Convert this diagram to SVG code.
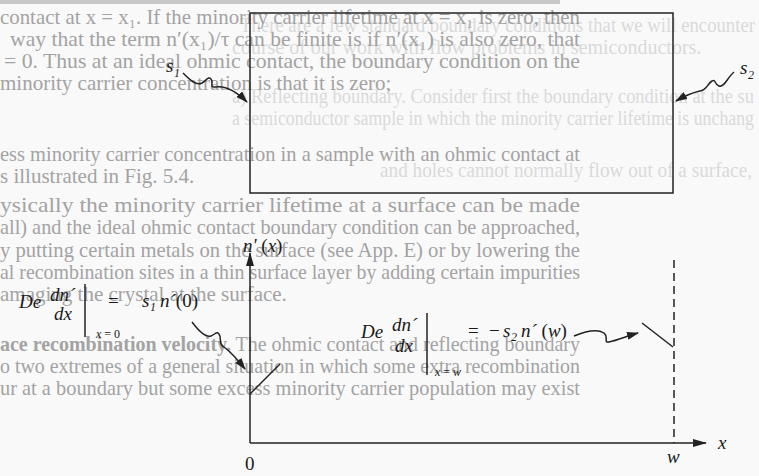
<svg xmlns="http://www.w3.org/2000/svg" width="759" height="476" viewBox="0 0 759 476">
<style>
.pg{font-family:"Liberation Serif",serif;font-size:21px;fill:#a3a3a3}
.bt{font-family:"Liberation Serif",serif;font-size:20px;fill:#dadada}
.m{font-family:"Liberation Serif",serif;font-size:19px;font-style:italic;fill:#1a1a1a}
.u{font-family:"Liberation Serif",serif;font-size:19px;fill:#1a1a1a}
.sub{font-family:"Liberation Serif",serif;font-size:12px;font-style:italic;fill:#1a1a1a}
.ln{fill:none;stroke:#222;stroke-width:1.5}
.wv{fill:none;stroke:#222;stroke-width:1.5}
</style>
<defs>
<marker id="ah" viewBox="0 0 12 8" refX="11" refY="4" markerWidth="12" markerHeight="8" markerUnits="userSpaceOnUse" orient="auto"><path d="M0,0 L12,4 L0,8 z" fill="#222"/></marker>
<marker id="ax" viewBox="0 0 14 8" refX="13" refY="4" markerWidth="14" markerHeight="8" markerUnits="userSpaceOnUse" orient="auto"><path d="M0,0 L14,4 L0,8 z" fill="#222"/></marker>
</defs>
<rect width="759" height="476" fill="#f9f9f9"/>
<rect x="0" y="0" width="560" height="4" fill="#c8c8c8"/>
<g id="page-text-bleed">
<text class="bt" x="240" y="32" textLength="515" lengthAdjust="spacingAndGlyphs">There are a few standard boundary conditions that we will encounter</text>
<text class="bt" x="232" y="54">course of our work with flow problems in semiconductors.</text>
<text class="bt" x="232" y="103" textLength="522" lengthAdjust="spacingAndGlyphs">a) Reflecting boundary. Consider first the boundary condition at the su</text>
<text class="bt" x="232" y="125" textLength="522" lengthAdjust="spacingAndGlyphs">a semiconductor sample in which the minority carrier lifetime is unchang</text>
<text class="bt" x="380" y="177" textLength="372" lengthAdjust="spacingAndGlyphs">and holes cannot normally flow out of a surface,</text>
</g>
<g id="page-text">
<text class="pg" x="0" y="24" textLength="580" lengthAdjust="spacingAndGlyphs">contact at x = x₁. If the minority carrier lifetime at x = x₁ is zero, then</text>
<text class="pg" x="10" y="46" textLength="570" lengthAdjust="spacingAndGlyphs">way that the term n′(x₁)/τ can be finite is if n′(x₁) is also zero, that</text>
<text class="pg" x="4" y="68" textLength="576" lengthAdjust="spacingAndGlyphs">= 0. Thus at an ideal ohmic contact, the boundary condition on the</text>
<text class="pg" x="0" y="90">minority carrier concentration is that it is zero;</text>
<text class="pg" x="0" y="161" textLength="580" lengthAdjust="spacingAndGlyphs">ess minority carrier concentration in a sample with an ohmic contact at</text>
<text class="pg" x="0" y="183">s illustrated in Fig. 5.4.</text>
<text class="pg" x="0" y="212" textLength="580" lengthAdjust="spacingAndGlyphs">ysically the minority carrier lifetime at a surface can be made</text>
<text class="pg" x="0" y="234" textLength="580" lengthAdjust="spacingAndGlyphs">all) and the ideal ohmic contact boundary condition can be approached,</text>
<text class="pg" x="0" y="257" textLength="580" lengthAdjust="spacingAndGlyphs">y putting certain metals on the surface (see App. E) or by lowering the</text>
<text class="pg" x="0" y="279" textLength="580" lengthAdjust="spacingAndGlyphs">al recombination sites in a thin surface layer by adding certain impurities</text>
<text class="pg" x="0" y="301">amaging the crystal at the surface.</text>
<text class="pg" x="0" y="351" textLength="580" lengthAdjust="spacingAndGlyphs"><tspan font-weight="bold">ace recombination velocity.</tspan> The ohmic contact and reflecting boundary</text>
<text class="pg" x="0" y="373" textLength="580" lengthAdjust="spacingAndGlyphs">o two extremes of a general situation in which some extra recombination</text>
<text class="pg" x="0" y="395" textLength="580" lengthAdjust="spacingAndGlyphs">ur at a boundary but some excess minority carrier population may exist</text>
</g>
<g id="sample-box">
<rect x="250" y="13" width="423" height="180" class="ln"/>
</g>
<g id="label-s1">
<text class="m" x="166" y="72">s</text><text class="sub" x="174" y="77" font-style="normal">1</text>
</g>
<g id="label-s2">
<text class="m" x="740" y="74">s</text><text class="sub" x="748" y="79" font-style="normal">2</text>
</g>
<g id="eq-left">
<text class="m" x="19" y="308">De</text>
<text class="m" x="50" y="301">dn´</text>
<text class="m" x="54" y="320">dx</text>
<line x1="85" y1="284" x2="85" y2="337" class="ln"/>
<text class="sub" x="96" y="338">x<tspan font-style="normal"> = 0</tspan></text>
<text class="u" x="108" y="307">=</text>
<text class="m" x="142" y="307">s</text><text class="sub" x="150" y="311" font-style="normal">1</text>
<text class="m" x="160" y="307">n´<tspan font-style="normal">(0)</tspan></text>
</g>
<g id="eq-right">
<text class="m" x="361" y="338">De</text>
<text class="m" x="392" y="331">dn´</text>
<text class="m" x="395" y="352">dx</text>
<line x1="427" y1="313" x2="427" y2="375" class="ln"/>
<text class="sub" x="435" y="376">x<tspan font-style="normal"> = </tspan>w</text>
<text class="u" x="468" y="337">=</text>
<text class="u" x="489" y="337">−</text>
<text class="m" x="503" y="337">s</text><text class="sub" x="511" y="341" font-style="normal">2</text>
<text class="m" x="521" y="337">n´ <tspan font-style="normal">(</tspan>w<tspan font-style="normal">)</tspan></text>
</g>
<g id="axis-labels">
<text class="m" x="243" y="252">n' <tspan font-style="normal">(</tspan>x<tspan font-style="normal">)</tspan></text>
<text class="u" x="245" y="470">0</text>
<text class="m" x="667" y="463">w</text>
<text class="m" x="718" y="449">x</text>
</g>
<g id="connectors">
<path class="wv" d="M183,73 C190,80 196,86 202,83 C207,80 208,76 211,79 C214,82 209,88 215,87 C226,85 238,93 247,102" marker-end="url(#ah)"/>
<path class="wv" d="M734,72 C727,78 724,88 719,86 C714,84 716,79 712,81 C707,84 707,90 700,91 C690,93 683,97 676,101" marker-end="url(#ah)"/>
<path class="wv" d="M192,322 C198,330 205,338 211,336 C216,334 216,331 219,334 C222,338 218,344 224,347 C232,353 238,360 245,369" marker-end="url(#ah)"/>
<path class="wv" d="M574,336 C586,331 598,329 604,333 C609,337 603,343 609,342 C618,340 627,336 638,333" marker-end="url(#ah)"/>
<line x1="250" y1="443" x2="250" y2="253" class="ln" marker-end="url(#ax)"/>
<line x1="250" y1="443" x2="706" y2="443" class="ln" marker-end="url(#ax)"/>
<line x1="674" y1="260" x2="674" y2="443" class="ln" stroke-dasharray="8,5"/>
<line x1="250" y1="394" x2="280" y2="364" class="ln"/>
<line x1="642" y1="323" x2="673" y2="347" class="ln"/>
</g>
</svg>
